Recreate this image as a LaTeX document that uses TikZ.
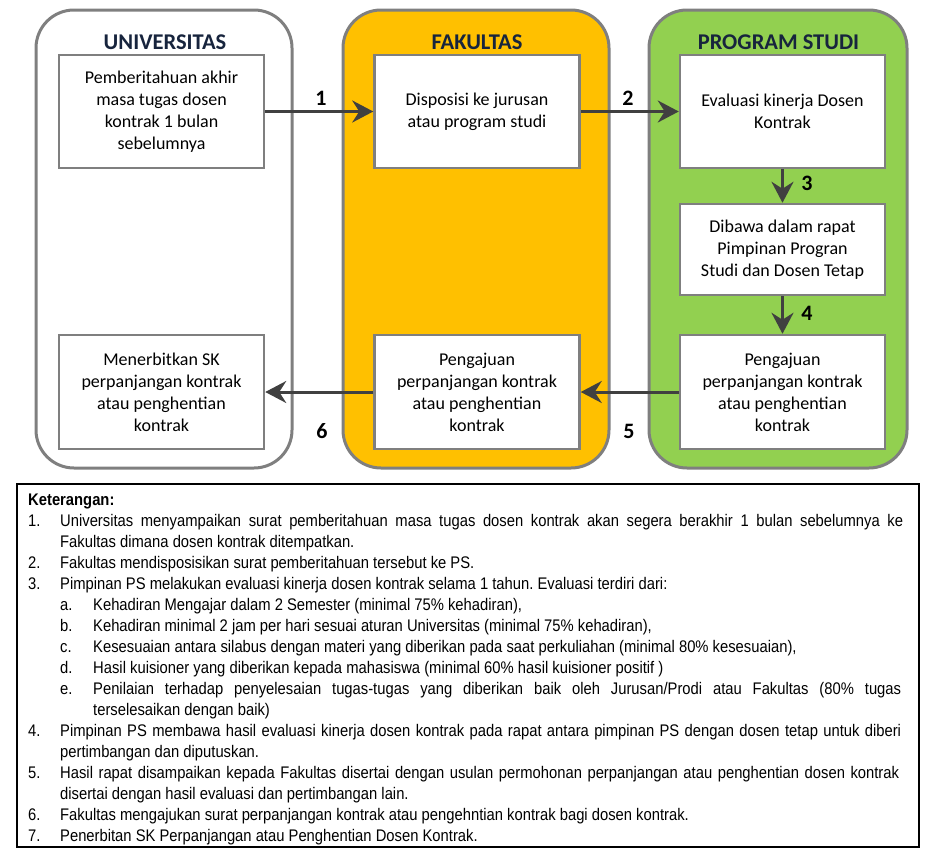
\documentclass[tikz,border=0pt]{standalone}
\usepackage{fontspec}
\setmainfont{Carlito}
\newfontfamily\legfont[FakeStretch=0.88]{Liberation Sans}
\usetikzlibrary{arrows.meta}
\definecolor{lanegray}{HTML}{7F7F7F}
\definecolor{fakfill}{HTML}{FFC000}
\definecolor{psfill}{HTML}{92D050}
\definecolor{arrgray}{HTML}{404040}
\definecolor{navy}{HTML}{17243D}
\newcommand\nitem[2]{\noindent\makebox[32pt][l]{#1}#2\par}
\newcommand\ncont[1]{\noindent\hspace*{32pt}#1\par}
\newcommand\sitem[2]{\noindent\hspace*{32pt}\makebox[33pt][l]{#1}#2\par}
\newcommand\scont[1]{\noindent\hspace*{65pt}#1\par}
\newcommand\jline[2]{\makebox[#1pt][s]{#2}}
\tikzset{
  lane/.style={draw=lanegray, line width=3pt, rounded corners=38pt, minimum height=458pt, inner sep=0pt},
  lanetitle/.style={font=\fontsize{22.5}{26}\selectfont\bfseries, text=navy, inner sep=0pt},
  procbox/.style={draw=lanegray, line width=2.5pt, fill=white, minimum width=205pt, align=center,
    font=\fontsize{18}{22}\selectfont, inner sep=0pt},
  arr/.style={draw=arrgray, line width=3pt, -{Stealth[length=21pt, width=22pt, inset=7pt]}},
  steplabel/.style={font=\fontsize{22}{26}\selectfont\bfseries, inner sep=0pt},
}
\begin{document}
\begin{tikzpicture}[x=1pt, y=-1pt]
\useasboundingbox (0,0) rectangle (940,865);
% lanes
\node[lane, minimum width=256pt] (laneU) at (164,239) {};
\node[lane, minimum width=266pt, fill=fakfill] (laneF) at (476,239) {};
\node[lane, minimum width=258pt, fill=psfill] (laneP) at (778,239) {};
\node[lanetitle] (tU) at (165,42) {UNIVERSITAS};
\node[lanetitle] (tF) at (477,42) {FAKULTAS};
\node[lanetitle] (tP) at (778.5,42) {PROGRAM STUDI};
% boxes
\node[procbox, minimum height=113pt] (u1) at (161.5,111.5) {Pemberitahuan akhir\\masa tugas dosen\\kontrak 1 bulan\\sebelumnya};
\node[procbox, minimum height=113pt] (f1) at (477,111.5) {Disposisi ke jurusan\\atau program studi};
\node[procbox, minimum height=113pt] (p1) at (782.5,111.5) {Evaluasi kinerja Dosen\\Kontrak};
\node[procbox, minimum height=91pt] (p2) at (782.5,249.5) {Dibawa dalam rapat\\Pimpinan Progran\\Studi dan Dosen Tetap};
\node[procbox, minimum height=114pt] (p3) at (782.5,392) {Pengajuan\\perpanjangan kontrak\\atau penghentian\\kontrak};
\node[procbox, minimum height=114pt] (f2) at (477,392) {Pengajuan\\perpanjangan kontrak\\atau penghentian\\kontrak};
\node[procbox, minimum height=114pt] (u2) at (161.5,392) {Menerbitkan SK\\perpanjangan kontrak\\atau penghentian\\kontrak};
% arrows
\draw[arr] (u1.east) -- (f1.west);
\draw[arr] (f1.east) -- (p1.west);
\draw[arr] (p1.south) -- (p2.north);
\draw[arr] (p2.south) -- (p3.north);
\draw[arr] (p3.west) -- (f2.east);
\draw[arr] (f2.west) -- (u2.east);
% step labels
\node[steplabel] (n1) at (321,98) {1};
\node[steplabel] (n2) at (628,98) {2};
\node[steplabel] (n3) at (807,183) {3};
\node[steplabel] (n4) at (807,313) {4};
\node[steplabel] (n5) at (629,431) {5};
\node[steplabel] (n6) at (322,431) {6};
% legend
\node[draw=black, line width=2.5pt, minimum width=902pt, minimum height=363pt, inner sep=0pt] (legbox) at (468,665.5) {};
\node[anchor=north west, inner sep=0pt, text width=875pt] (legtext) at (28,490) {%
\legfont\fontsize{16.8}{21}\selectfont\parindent=0pt\spaceskip=0pt\xspaceskip=0pt\frenchspacing
\rule{0pt}{15pt}\textbf{Keterangan:}\par
\nitem{1.}{\jline{843}{Universitas menyampaikan surat pemberitahuan masa tugas dosen kontrak akan segera berakhir 1 bulan sebelumnya ke}}
\ncont{Fakultas dimana dosen kontrak ditempatkan.}
\nitem{2.}{Fakultas mendisposisikan surat pemberitahuan tersebut ke PS.}
\nitem{3.}{Pimpinan PS melakukan evaluasi kinerja dosen kontrak selama 1 tahun. Evaluasi terdiri dari:}
\sitem{a.}{Kehadiran Mengajar dalam 2 Semester (minimal 75\% kehadiran),}
\sitem{b.}{Kehadiran minimal 2 jam per hari sesuai aturan Universitas (minimal 75\% kehadiran),}
\sitem{c.}{Kesesuaian antara silabus dengan materi yang diberikan pada saat perkuliahan (minimal 80\% kesesuaian),}
\sitem{d.}{Hasil kuisioner yang diberikan kepada mahasiswa (minimal 60\% hasil kuisioner positif )}
\sitem{e.}{\jline{808}{Penilaian terhadap penyelesaian tugas-tugas yang diberikan baik oleh Jurusan/Prodi atau Fakultas (80\% tugas}}
\scont{terselesaikan dengan baik)}
\nitem{4.}{\jline{841}{Pimpinan PS membawa hasil evaluasi kinerja dosen kontrak pada rapat antara pimpinan PS dengan dosen tetap untuk diberi}}
\ncont{pertimbangan dan diputuskan.}
\nitem{5.}{\jline{839}{Hasil rapat disampaikan kepada Fakultas disertai dengan usulan permohonan perpanjangan atau penghentian dosen kontrak}}
\ncont{disertai dengan hasil evaluasi dan pertimbangan lain.}
\nitem{6.}{Fakultas mengajukan surat perpanjangan kontrak atau pengehntian kontrak bagi dosen kontrak.}
\nitem{7.}{Penerbitan SK Perpanjangan atau Penghentian Dosen Kontrak.}
};
\end{tikzpicture}
\end{document}
